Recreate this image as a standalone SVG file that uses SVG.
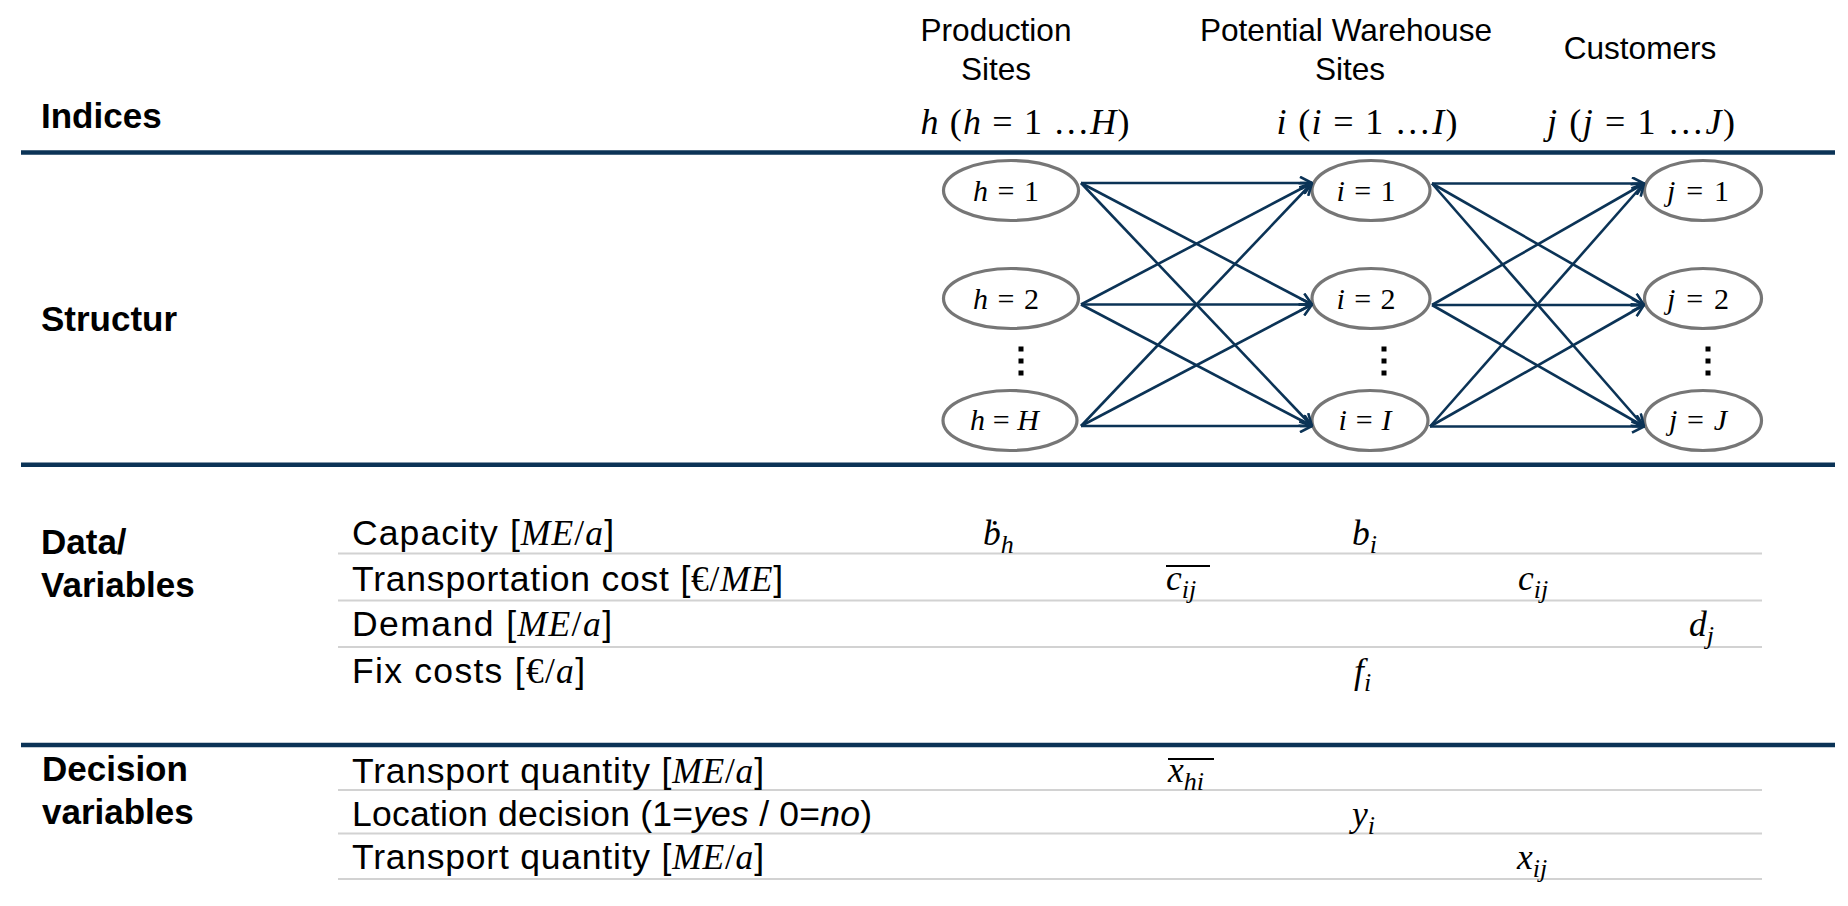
<svg xmlns="http://www.w3.org/2000/svg" width="1848" height="906" viewBox="0 0 1848 906">
  <style>
    .rule { stroke: #0b3356; stroke-width: 4.5; }
    .sep { stroke: #d2d2d2; stroke-width: 2; }
    .node ellipse { fill: #ffffff; stroke: #767676; stroke-width: 3.2; }
    .sans { font-family: "Liberation Sans", Arial, sans-serif; fill: #000000; }
    .sec { font-size: 35px; font-weight: bold; }
    .row { font-size: 35.5px; }
    .hdr { font-size: 31.6px; text-anchor: middle; }
    .m { font-family: "Liberation Serif", "Times New Roman", serif; fill: #000000; }
    .it { font-style: italic; }
    .nl { font-size: 30px; text-anchor: middle; }
    .idx { font-size: 36px; text-anchor: middle; }
    .val { font-size: 35.5px; }
    .sub { font-size: 26px; }
    .bar { stroke: #000000; stroke-width: 1.8; }
    .dot { fill: #000000; }
    .edge { stroke: #0b3356; stroke-width: 2.6; fill: none; marker-end: url(#arrow); }
  </style>
  <defs>
    <marker id="arrow" viewBox="0 0 14 14" refX="13" refY="7" markerWidth="14" markerHeight="14" markerUnits="userSpaceOnUse" orient="auto">
      <path d="M1,0.8 L13,7 L1,13.2" fill="none" stroke="#0b3356" stroke-width="2.6"/>
    </marker>
  </defs>
  <rect width="1848" height="906" fill="#ffffff"/>

  <!-- column headings -->
  <g id="headings">
    <text class="sans hdr" x="996" y="41">Production</text>
    <text class="sans hdr" x="996" y="80">Sites</text>
    <text class="sans hdr" x="1346" y="41">Potential Warehouse</text>
    <text class="sans hdr" x="1350" y="80">Sites</text>
    <text class="sans hdr" x="1640" y="59">Customers</text>
    <text class="m idx" x="1025" y="134" textLength="209" lengthAdjust="spacing"><tspan class="it">h</tspan> (<tspan class="it">h</tspan> = 1 …<tspan class="it">H</tspan>)</text>
    <text class="m idx" x="1367" y="134" textLength="181" lengthAdjust="spacing"><tspan class="it">i</tspan> (<tspan class="it">i</tspan> = 1 …<tspan class="it">I</tspan>)</text>
    <text class="m idx" x="1641" y="134" textLength="188" lengthAdjust="spacing"><tspan class="it">j</tspan> (<tspan class="it">j</tspan> = 1 …<tspan class="it">J</tspan>)</text>
  </g>

  <!-- section labels -->
  <g id="sections">
    <text class="sans sec" x="41" y="128">Indices</text>
    <text class="sans sec" x="41" y="331">Structur</text>
    <text class="sans sec" x="41" y="554">Data/</text>
    <text class="sans sec" x="41" y="597">Variables</text>
    <text class="sans sec" x="42" y="781">Decision</text>
    <text class="sans sec" x="42" y="824">variables</text>
  </g>

  <!-- section rules -->
  <g id="rules">
    <line class="rule" x1="21" y1="152.5" x2="1835" y2="152.5"/>
    <line class="rule" x1="21" y1="464.7" x2="1835" y2="464.7"/>
    <line class="rule" x1="21" y1="745" x2="1835" y2="745"/>
  </g>

  <!-- table separators -->
  <g id="separators">
    <line class="sep" x1="338" y1="553.5" x2="1762" y2="553.5"/>
    <line class="sep" x1="338" y1="600.5" x2="1762" y2="600.5"/>
    <line class="sep" x1="338" y1="647" x2="1762" y2="647"/>
    <line class="sep" x1="338" y1="790" x2="1762" y2="790"/>
    <line class="sep" x1="338" y1="833.5" x2="1762" y2="833.5"/>
    <line class="sep" x1="338" y1="879" x2="1762" y2="879"/>
  </g>

  <!-- production sites -->
  <g id="node-h1" class="node">
    <ellipse cx="1011" cy="190.5" rx="67.5" ry="30"/>
    <text class="m nl" x="1006" y="201" textLength="66" lengthAdjust="spacing"><tspan class="it">h</tspan> = 1</text>
  </g>
  <g id="node-h2" class="node">
    <ellipse cx="1011" cy="298.5" rx="67.5" ry="30"/>
    <text class="m nl" x="1006" y="309" textLength="66" lengthAdjust="spacing"><tspan class="it">h</tspan> = 2</text>
  </g>
  <g id="node-hH" class="node">
    <ellipse cx="1010" cy="420.5" rx="67" ry="30"/>
    <text class="m nl" x="1004.5" y="430" textLength="69" lengthAdjust="spacing"><tspan class="it">h</tspan> = <tspan class="it">H</tspan></text>
  </g>

  <!-- potential warehouse sites -->
  <g id="node-i1" class="node">
    <ellipse cx="1371" cy="190.5" rx="59" ry="30"/>
    <text class="m nl" x="1366" y="201" textLength="59" lengthAdjust="spacing"><tspan class="it">i</tspan> = 1</text>
  </g>
  <g id="node-i2" class="node">
    <ellipse cx="1371" cy="298.5" rx="59" ry="30"/>
    <text class="m nl" x="1366" y="309" textLength="59" lengthAdjust="spacing"><tspan class="it">i</tspan> = 2</text>
  </g>
  <g id="node-iI" class="node">
    <ellipse cx="1370" cy="420.5" rx="58" ry="30"/>
    <text class="m nl" x="1365" y="430" textLength="53" lengthAdjust="spacing"><tspan class="it">i</tspan> = <tspan class="it">I</tspan></text>
  </g>

  <!-- customers -->
  <g id="node-j1" class="node">
    <ellipse cx="1703" cy="190.5" rx="58.5" ry="30"/>
    <text class="m nl" x="1698" y="201" textLength="62" lengthAdjust="spacing"><tspan class="it">j</tspan> = 1</text>
  </g>
  <g id="node-j2" class="node">
    <ellipse cx="1703" cy="298.5" rx="58.5" ry="30"/>
    <text class="m nl" x="1698" y="309" textLength="62" lengthAdjust="spacing"><tspan class="it">j</tspan> = 2</text>
  </g>
  <g id="node-jJ" class="node">
    <ellipse cx="1703" cy="420.5" rx="58.5" ry="30"/>
    <text class="m nl" x="1698" y="430" textLength="58" lengthAdjust="spacing"><tspan class="it">j</tspan> = <tspan class="it">J</tspan></text>
  </g>

  <!-- vertical ellipses between second and last node of each column -->
  <g id="ellipsis-dots">
    <rect class="dot" x="1018.5" y="346.5" width="5" height="5"/>
    <rect class="dot" x="1018.5" y="358.5" width="5" height="5"/>
    <rect class="dot" x="1018.5" y="370.5" width="5" height="5"/>
    <rect class="dot" x="1381.5" y="346.5" width="5" height="5"/>
    <rect class="dot" x="1381.5" y="358.5" width="5" height="5"/>
    <rect class="dot" x="1381.5" y="370.5" width="5" height="5"/>
    <rect class="dot" x="1705.5" y="346.5" width="5" height="5"/>
    <rect class="dot" x="1705.5" y="358.5" width="5" height="5"/>
    <rect class="dot" x="1705.5" y="370.5" width="5" height="5"/>
  </g>

  <!-- flows: production -> warehouses -> customers -->
  <g id="connectors">
    <line class="edge" x1="1081" y1="183" x2="1312" y2="183"/>
    <line class="edge" x1="1081" y1="183" x2="1312" y2="304.5"/>
    <line class="edge" x1="1081" y1="183" x2="1312" y2="426"/>
    <line class="edge" x1="1081" y1="304.5" x2="1312" y2="183"/>
    <line class="edge" x1="1081" y1="304.5" x2="1312" y2="304.5"/>
    <line class="edge" x1="1081" y1="304.5" x2="1312" y2="426"/>
    <line class="edge" x1="1081" y1="426" x2="1312" y2="183"/>
    <line class="edge" x1="1081" y1="426" x2="1312" y2="304.5"/>
    <line class="edge" x1="1081" y1="426" x2="1312" y2="426"/>

    <line class="edge" x1="1432" y1="183.5" x2="1644" y2="183.5"/>
    <line class="edge" x1="1432" y1="183.5" x2="1644" y2="305"/>
    <line class="edge" x1="1432" y1="183.5" x2="1644" y2="426.5"/>
    <line class="edge" x1="1432" y1="305" x2="1644" y2="183.5"/>
    <line class="edge" x1="1432" y1="305" x2="1644" y2="305"/>
    <line class="edge" x1="1432" y1="305" x2="1644" y2="426.5"/>
    <line class="edge" x1="1430" y1="426.5" x2="1644" y2="183.5"/>
    <line class="edge" x1="1430" y1="426.5" x2="1644" y2="305"/>
    <line class="edge" x1="1430" y1="426.5" x2="1644" y2="426.5"/>
  </g>

  <!-- data / variables rows -->
  <g id="data-rows">
    <text class="sans row" x="352" y="545" textLength="262" lengthAdjust="spacing">Capacity [<tspan class="m it">ME</tspan><tspan class="m">/</tspan><tspan class="m it">a</tspan>]</text>
    <text class="sans row" x="352" y="591" textLength="431" lengthAdjust="spacing">Transportation cost [<tspan class="m">€/</tspan><tspan class="m it">ME</tspan>]</text>
    <text class="sans row" x="352" y="636" textLength="260" lengthAdjust="spacing">Demand [<tspan class="m it">ME</tspan><tspan class="m">/</tspan><tspan class="m it">a</tspan>]</text>
    <text class="sans row" x="352" y="683" textLength="233" lengthAdjust="spacing">Fix costs [<tspan class="m">€/</tspan><tspan class="m it">a</tspan>]</text>

    <text class="m it val" x="983" y="545">b&#x307;<tspan class="sub" dy="8">h</tspan></text>
    <text class="m it val" x="1352" y="545">b<tspan class="sub" dy="8">i</tspan></text>
    <text class="m it val" x="1166" y="590">c<tspan class="sub" dy="8">ij</tspan></text>
    <line class="bar" x1="1166" y1="566" x2="1210" y2="566"/>
    <text class="m it val" x="1518" y="590">c<tspan class="sub" dy="8">ij</tspan></text>
    <text class="m it val" x="1689" y="636">d<tspan class="sub" dy="8">j</tspan></text>
    <text class="m it val" x="1354" y="683">f<tspan class="sub" dy="8">i</tspan></text>
  </g>

  <!-- decision variable rows -->
  <g id="decision-rows">
    <text class="sans row" x="352" y="783" textLength="412" lengthAdjust="spacing">Transport quantity [<tspan class="m it">ME</tspan><tspan class="m">/</tspan><tspan class="m it">a</tspan>]</text>
    <text class="sans row" x="352" y="826" textLength="520" lengthAdjust="spacing">Location decision (1=<tspan class="it">yes</tspan> / 0=<tspan class="it">no</tspan>)</text>
    <text class="sans row" x="352" y="869" textLength="412" lengthAdjust="spacing">Transport quantity [<tspan class="m it">ME</tspan><tspan class="m">/</tspan><tspan class="m it">a</tspan>]</text>

    <text class="m it val" x="1168" y="782">x<tspan class="sub" dy="8">hi</tspan></text>
    <line class="bar" x1="1168" y1="759" x2="1214" y2="759"/>
    <text class="m it val" x="1352" y="826">y<tspan class="sub" dy="8">i</tspan></text>
    <text class="m it val" x="1517" y="869">x<tspan class="sub" dy="8">ij</tspan></text>
  </g>
</svg>
